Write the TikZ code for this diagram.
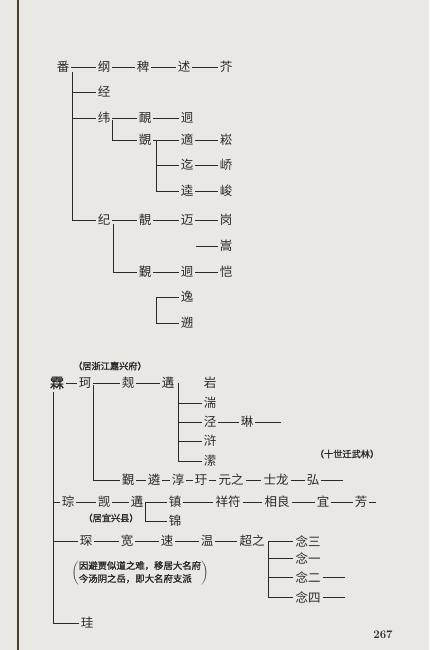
\documentclass[tikz,border=0pt]{standalone}
\usepackage{fontspec}
\newfontfamily\cjk{Noto Sans CJK SC}
\newfontfamily\cjkb[FakeBold=1.6]{Noto Sans CJK SC}
\definecolor{bg}{HTML}{E9E8E2}
\definecolor{ink}{HTML}{2A2A2A}
\definecolor{gut}{HTML}{4A4030}
\begin{document}
\begin{tikzpicture}[x=1pt,y=-1pt,
  nm/.style={inner sep=2pt, text=ink, font=\cjk\fontsize{12.5}{12.5}\selectfont},
  big/.style={inner sep=2pt, text=ink, font=\cjkb\fontsize{14}{14}\selectfont},
  note/.style={inner sep=0pt, text=ink, font=\cjkb\fontsize{9.2}{10}\selectfont},
  ln/.style={draw=ink, line width=0.75pt}]
\fill[bg] (0,0) rectangle (429,650);
\useasboundingbox (0,0) rectangle (429,650);
\draw[gut, line width=1.1pt] (18,0) -- (18,650);

% ---------- upper tree ----------
\node[nm] (fan)  at (63,67)  {番};
\node[nm] (gang) at (104,67) {纲};
\node[nm] (bai)  at (143,67) {稗};
\node[nm] (shu)  at (184,67) {述};
\node[nm] (jie)  at (226,67) {芥};
\draw[ln] (fan) -- (gang);
\draw[ln] (gang) -- (bai);
\draw[ln] (bai) -- (shu);
\draw[ln] (shu) -- (jie);
\node[nm] (jing) at (104,92)  {经};
\node[nm] (wei)  at (104,118) {纬};
\node[nm] (ji)   at (104,220) {纪};
\coordinate (fv) at (72,72);
\draw[ln] (fv) |- (ji);
\draw[ln] (fv |- jing) -- (jing);
\draw[ln] (fv |- wei) -- (wei);

\node[nm] (tian) at (145,118) {靦};
\node[nm] (tong) at (187,118) {迵};
\draw[ln] (wei) -- (tian);
\draw[ln] (tian) -- (tong);
\node[nm] (ka)   at (145,140) {覬};
\coordinate (wv) at (112,120);
\draw[ln] (wv) |- (ka);
\node[nm] (shi)  at (187,140) {適};
\node[nm] (song) at (226,140) {崧};
\draw[ln] (ka) -- (shi);
\draw[ln] (shi) -- (song);
\node[nm] (qi)   at (187,165) {迄};
\node[nm] (qiao) at (226,165) {峤};
\node[nm] (kui)  at (187,191) {逵};
\node[nm] (jun)  at (226,191) {峻};
\coordinate (kv) at (156,140);
\draw[ln] (kv) |- (kui);
\draw[ln] (kv |- qi) -- (qi);
\draw[ln] (qi) -- (qiao);
\draw[ln] (kui) -- (jun);

\node[nm] (jingb) at (145,220) {靚};
\node[nm] (mai)   at (187,220) {迈};
\node[nm] (gangb) at (226,220) {岗};
\draw[ln] (ji) -- (jingb);
\draw[ln] (jingb) -- (mai);
\draw[ln] (mai) -- (gangb);
\node[nm] (song2) at (226,246) {嵩};
\coordinate (s2) at (196,246);
\draw[ln] (s2) -- (song2);
\node[nm] (jin)  at (145,272) {覲};
\node[nm] (tong2) at (187,272) {迵};
\node[nm] (kai)  at (226,272) {恺};
\coordinate (jv) at (113,224);
\draw[ln] (jv) |- (jin);
\draw[ln] (jin) -- (tong2);
\draw[ln] (tong2) -- (kai);
\node[nm] (yi) at (187,297) {逸};
\node[nm] (su) at (187,323) {遡};
\coordinate (yv) at (156,297);
\draw[ln] (yv) -- (yi);
\draw[ln] (yv) |- (su);

% ---------- lower tree ----------
\node[note] (n1) at (110,366) {（居浙江嘉兴府）};
\node[big] (lin) at (57,383) {霖};
\node[nm] (ke)  at (85,383)  {珂};
\node[nm] (di)  at (128,383) {觌};
\node[nm] (gou) at (168,383) {遘};
\draw[ln] (lin) -- (ke);
\draw[ln] (ke) -- (di);
\draw[ln] (di) -- (gou);
\node[nm] (c1) at (210,383) {岩};
\node[nm] (c2) at (210,403) {湍};
\node[nm] (c3) at (210,422) {泾};
\node[nm] (c4) at (210,441) {浒};
\node[nm] (c5) at (210,461) {潆};
\coordinate (gv) at (178,383);
\draw[ln] (gv) |- (c5);
\draw[ln] (gv |- c2) -- (c2);
\draw[ln] (gv |- c3) -- (c3);
\draw[ln] (gv |- c4) -- (c4);
\node[nm] (linb) at (247,422) {琳};
\coordinate (le) at (281,422);
\draw[ln] (c3) -- (linb);
\draw[ln] (linb) -- (le);
\node[note] (n2) at (347,454) {（十世迁武林）};

\node[nm] (jin3)  at (128,480) {覲};
\node[nm] (lin3)  at (154,480) {遴};
\node[nm] (chun)  at (178,480) {淳};
\node[nm] (yu)    at (201,480) {玗};
\node[nm] (yuan)  at (231,480) {元之};
\node[nm] (shil)  at (276,480) {士龙};
\node[nm] (hong)  at (313,480) {弘};
\coordinate (he) at (343,480);
\coordinate (kv2) at (93,385);
\draw[ln] (kv2) |- (jin3);
\draw[ln] (jin3) -- (lin3);
\draw[ln] (lin3) -- (chun);
\draw[ln] (chun) -- (yu);
\draw[ln] (yu) -- (yuan);
\draw[ln] (yuan) -- (shil);
\draw[ln] (shil) -- (hong);
\draw[ln] (hong) -- (he);

\coordinate (mv) at (53,392);
\node[nm] (cong) at (68,502)  {琮};
\node[nm] (kai2) at (104,502) {觊};
\node[nm] (gou2) at (137,502) {遘};
\draw[ln] (mv |- cong) -- (cong);
\draw[ln] (cong) -- (kai2);
\draw[ln] (kai2) -- (gou2);
\node[nm] (zhen) at (175,502) {镇};
\node[nm] (jinb) at (175,521) {锦};
\coordinate (zv) at (145,502);
\draw[ln] (zv) -- (zhen);
\draw[ln] (zv) |- (jinb);
\node[nm] (xf) at (228,502) {祥符};
\node[nm] (xl) at (277,502) {相良};
\node[nm] (yi2) at (323,502) {宜};
\node[nm] (fang) at (361,502) {芳};
\coordinate (fe) at (376,502);
\draw[ln] (zhen) -- (xf);
\draw[ln] (xf) -- (xl);
\draw[ln] (xl) -- (yi2);
\draw[ln] (yi2) -- (fang);
\draw[ln] (fang) -- (fe);
\node[note] (n3) at (111,518) {（居宜兴县）};

\node[nm] (chen) at (86,541)  {琛};
\node[nm] (kuan) at (127,541) {宽};
\node[nm] (su2)  at (167,541) {速};
\node[nm] (wen)  at (207,541) {温};
\node[nm] (chao) at (252,541) {超之};
\draw[ln] (mv |- chen) -- (chen);
\draw[ln] (chen) -- (kuan);
\draw[ln] (kuan) -- (su2);
\draw[ln] (su2) -- (wen);
\draw[ln] (wen) -- (chao);
\node[nm] (ns) at (308,541) {念三};
\node[nm] (ny) at (308,558) {念一};
\node[nm] (ne) at (308,577) {念二};
\node[nm] (nsi) at (308,597) {念四};
\coordinate (cv) at (268,541);
\draw[ln] (cv) -- (ns);
\draw[ln] (cv) |- (nsi);
\draw[ln] (cv |- ny) -- (ny);
\draw[ln] (cv |- ne) -- (ne);
\coordinate (ne2) at (345,577);
\coordinate (nse) at (345,597);
\draw[ln] (ne) -- (ne2);
\draw[ln] (nsi) -- (nse);
\node[inner sep=0pt, text=ink] (ann) at (140,573)
  {$\left(\vcenter{\hbox{\cjkb\fontsize{9.4}{13}\selectfont\begin{tabular}{@{}l@{}}因避贾似道之难，移居大名府\\今汤阴之岳，即大名府支派\end{tabular}}}\right)$};

\node[nm] (gui) at (87,623) {珪};
\draw[ln] (mv) |- (gui);

\node[inner sep=0pt, text=ink, font=\bfseries\fontsize{11.5}{12}\selectfont] (pg) at (383,635) {267};
\end{tikzpicture}
\end{document}
